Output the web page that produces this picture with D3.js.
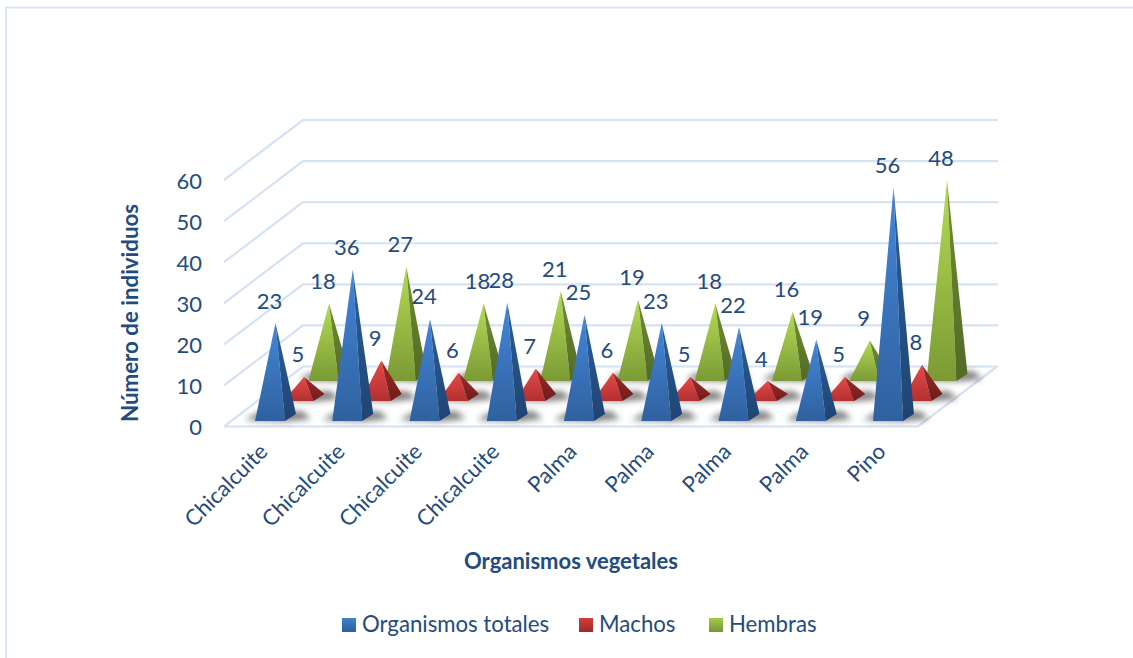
<!DOCTYPE html>
<html><head><meta charset="utf-8">
<style>html,body{margin:0;padding:0;background:#fff}svg{display:block}text{font-family:Lato,Carlito,sans-serif;fill:#234b7e}</style>
<script src="https://cdn.jsdelivr.net/npm/d3@7/dist/d3.min.js"></script>
</head><body><svg id="c" width="1133" height="658"></svg>
<script>
const categories=["Chicalcuite","Chicalcuite","Chicalcuite","Chicalcuite","Palma","Palma","Palma","Palma","Pino"];
const totales=[23,36,24,28,25,23,22,19,56];
const machos=[5,9,6,7,6,5,4,5,8];
const hembras=[18,27,18,21,19,18,16,9,48];
const yTicks=[0,10,20,30,40,50,60];
const seriesNames=["Organismos totales","Machos","Hembras"];

const svg=d3.select("#c");
const defs=svg.append("defs");
function grad(id,c1,c2){const g=defs.append("linearGradient").attr("id",id).attr("x1",0).attr("y1",0).attr("x2",0).attr("y2",1);
 g.append("stop").attr("offset",0).attr("stop-color",c1);g.append("stop").attr("offset",1).attr("stop-color",c2);}
grad("bf","#4586d8","#2f619f");grad("bs","#2a5f9e","#1f4472");
grad("rf","#e64a48","#b23030");grad("rs","#a02a28","#6f1c1c");
grad("gf","#b4dc55","#7b9a35");grad("gs","#6f8f30","#526a26");
grad("lb","#3f7fd0","#2f5f9d");grad("lr","#d63c3a","#9c2a2a");grad("lg","#a2cc44","#76953a");
defs.append("filter").attr("id","blur").attr("x","-40%").attr("y","-150%").attr("width","180%").attr("height","400%")
 .append("feGaussianBlur").attr("stdDeviation",3);

svg.append("path").attr("d","M6 658V7.5H1133").attr("fill","none").attr("stroke","#dbe6f5").attr("stroke-width",2);

const depthX=79,depthY=60,wallX=224,floorRight=918;
const y=d3.scaleLinear().domain([0,60]).range([426.5,180]);
const unit=y(0)-y(1);
const line=d3.line();
const gridColor="#d5e2f3";
const gridG=svg.append("g");
yTicks.forEach(t=>{
 const p=y(t);
 gridG.append("path").attr("d",line([[wallX,p],[wallX+depthX,p-depthY],[floorRight+depthX+1,p-depthY]]))
  .attr("fill","none").attr("stroke",gridColor).attr("stroke-width",2.2);
});
gridG.append("path").attr("d",line([[wallX,y(0)],[floorRight,y(0)],[floorRight+depthX,y(0)-depthY]]))
 .attr("fill","none").attr("stroke",gridColor).attr("stroke-width",2.2);

// y axis labels
const yAxis=d3.axisLeft(y).tickValues(yTicks).tickSize(0).tickPadding(0);
const ga=svg.append("g").attr("transform","translate(202,1)").call(yAxis);
ga.select(".domain").remove();
ga.selectAll("text").style("font-family","Lato,Carlito,sans-serif").style("font-size","22px").attr("fill","#234b7e");

const x=d3.scalePoint().domain(d3.range(categories.length)).range([255,873]);
const W=30,dX=11,dY=7;
const series=[
 {vals:hembras,ox:53.5,oy:-40,f:"url(#gf)",s:"url(#gs)"},
 {vals:machos,ox:28.5,oy:-20,f:"url(#rf)",s:"url(#rs)"},
 {vals:totales,ox:0,oy:0,f:"url(#bf)",s:"url(#bs)"}
];
const baseY=421;
const markG=svg.append("g");
series.forEach(se=>{
 const g=markG.append("g");
 // shadows
 g.selectAll("path.sh").data(se.vals).join("path").attr("class","sh")
  .attr("d",(d,i)=>{const fl=x(i)+se.ox,b=baseY+se.oy;
    return line([[fl-10,b-1],[fl+W,b+0.5],[fl+W+dX+15,b-2],[fl+W+dX+6,b-dY-3],[fl+2,b-dY-1]])+"Z";})
  .attr("fill","#000").attr("opacity",0.5).attr("filter","url(#blur)");
 const py=g.selectAll("g.p").data(se.vals).join("g").attr("class","p");
 py.append("path").attr("d",(d,i)=>{const fl=x(i)+se.ox,b=baseY+se.oy,ax=fl+(W+dX)/2,ay=b-dY/2-d*unit;
    return line([[ax,ay],[fl,b],[fl+W,b]])+"Z";}).attr("fill",se.f);
 py.append("path").attr("d",(d,i)=>{const fl=x(i)+se.ox,b=baseY+se.oy,ax=fl+(W+dX)/2,ay=b-dY/2-d*unit;
    return line([[ax,ay],[fl+W,b],[fl+W+dX,b-dY]])+"Z";}).attr("fill",se.s);
});
// data labels
series.forEach(se=>{
 svg.append("g").selectAll("text").data(se.vals).join("text")
  .attr("x",(d,i)=>x(i)+se.ox+(W+dX)/2-6)
  .attr("y",(d,i)=>baseY+se.oy-dY/2-d*unit-14.5)
  .attr("text-anchor","middle").attr("font-size",22).text(d=>d);
});
// category labels
svg.append("g").selectAll("text").data(categories).join("text")
 .attr("text-anchor","end").attr("font-size",22)
 .attr("transform",(d,i)=>`translate(${x(i)+14},453) rotate(-45)`)
 .text(d=>d);
// titles
svg.append("text").attr("transform","translate(138,313) rotate(-90)").attr("text-anchor","middle")
 .attr("font-size",22.3).attr("font-weight",700).text("Número de individuos");
svg.append("text").attr("x",571).attr("y",569).attr("text-anchor","middle")
 .attr("font-size",22).attr("font-weight",700).text("Organismos vegetales");
// legend
const legX=[342,579,709],legF=["url(#lb)","url(#lr)","url(#lg)"];
const leg=svg.append("g").selectAll("g").data(seriesNames).join("g").attr("transform",(d,i)=>`translate(${legX[i]},618)`);
leg.append("rect").attr("width",14).attr("height",14).attr("fill",(d,i)=>legF[i]);
leg.append("text").attr("x",20).attr("y",14).attr("font-size",22.2).text(d=>d);
</script></body></html>
